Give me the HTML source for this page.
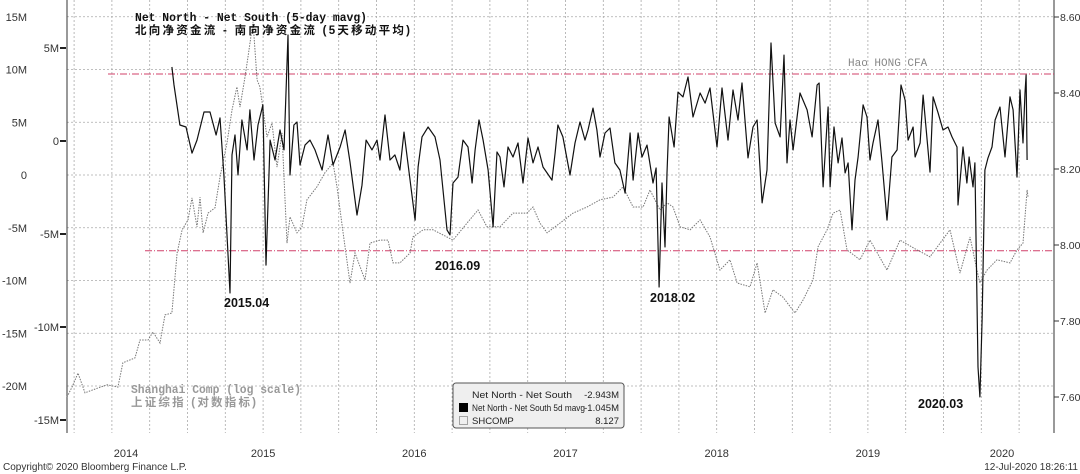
<!DOCTYPE html>
<html><head><meta charset="utf-8">
<style>
body{margin:0;background:#fff;}
#wrap{position:relative;width:1080px;height:474px;overflow:hidden;background:#fff;font-family:"Liberation Sans","Noto Sans CJK SC",sans-serif;}
svg text{font-family:"Liberation Sans","Noto Sans CJK SC",sans-serif;}
.mono{font-family:"Liberation Mono","Noto Sans CJK SC",monospace !important;}
</style></head>
<body>
<div id="wrap">
<svg id="chart" width="1080" height="474"></svg>
</div>
<script>
// ---- data ----
const netTimes=[2014.897,2014.911,2014.950,2014.990,2015.030,2015.063,2015.109,2015.149,2015.189,2015.215,2015.241,2015.281,2015.294,2015.314,2015.334,2015.360,2015.394,2015.413,2015.440,2015.466,2015.499,2015.519,2015.546,2015.579,2015.612,2015.638,2015.665,2015.678,2015.704,2015.724,2015.744,2015.777,2015.810,2015.843,2015.890,2015.929,2015.962,2016.009,2016.042,2016.075,2016.121,2016.154,2016.181,2016.220,2016.253,2016.273,2016.306,2016.339,2016.372,2016.405,2016.432,2016.505,2016.525,2016.551,2016.591,2016.637,2016.670,2016.716,2016.736,2016.756,2016.789,2016.822,2016.855,2016.882,2016.902,2016.928,2016.955,2016.988,2017.021,2017.047,2017.067,2017.093,2017.120,2017.153,2017.186,2017.219,2017.252,2017.285,2017.318,2017.351,2017.411,2017.431,2017.450,2017.483,2017.530,2017.563,2017.596,2017.629,2017.649,2017.682,2017.708,2017.728,2017.761,2017.794,2017.827,2017.860,2017.894,2017.927,2017.947,2017.980,2018.006,2018.039,2018.079,2018.099,2018.119,2018.138,2018.158,2018.171,2018.185,2018.218,2018.244,2018.277,2018.310,2018.343,2018.390,2018.423,2018.456,2018.502,2018.535,2018.575,2018.608,2018.641,2018.667,2018.707,2018.740,2018.767,2018.800,2018.833,2018.859,2018.886,2018.919,2018.945,2018.965,2018.985,2019.005,2019.051,2019.098,2019.131,2019.164,2019.177,2019.204,2019.237,2019.250,2019.276,2019.303,2019.329,2019.349,2019.369,2019.395,2019.415,2019.435,2019.468,2019.494,2019.514,2019.534,2019.567,2019.593,2019.626,2019.659,2019.693,2019.719,2019.746,2019.766,2019.799,2019.812,2019.845,2019.865,2019.911,2019.931,2019.964,2019.997,2020.030,2020.056,2020.089,2020.096,2020.129,2020.155,2020.169,2020.195,2020.208,2020.215,2020.228,2020.241,2020.255,2020.274,2020.294,2020.321,2020.341,2020.374,2020.407,2020.440,2020.460,2020.486,2020.506,2020.526,2020.539,2020.546,2020.553];
const netValues=[3.98,3.01,0.86,0.75,-0.65,0.05,1.56,1.56,0.32,1.24,-1.83,-8.17,-0.75,0.32,-1.83,1.13,-0.48,1.67,-1.02,0.86,1.94,-6.67,0.05,-1.02,0.59,-0.48,5.70,-1.83,0.86,1.02,-1.29,-0.22,0.05,-0.48,-1.56,0.32,-1.29,-0.32,0.59,-1.13,-3.98,-2.37,0.05,-0.48,0.05,-1.02,1.40,-1.02,-0.75,-1.56,0.48,-4.25,-1.40,0.22,0.75,0.22,-1.02,-4.78,-5.05,-2.26,-1.94,0.05,-0.32,-2.26,-0.48,1.13,0.05,-1.56,-4.62,-0.59,-0.86,-2.47,-0.32,-0.86,-0.11,-2.26,0.16,-1.18,-0.32,-1.40,-2.10,-0.65,0.86,0.22,-1.83,-0.11,1.02,0.05,0.59,1.77,0.59,-0.86,0.43,0.70,-1.18,-1.56,-2.80,0.43,-2.10,0.43,-0.86,-0.22,-2.26,-1.45,-7.85,-2.26,-5.70,-1.72,1.29,-0.32,2.63,2.37,3.44,1.29,2.58,2.04,2.85,-0.32,2.85,0.05,2.74,1.13,3.12,-0.91,0.75,1.13,-3.33,-1.56,5.27,0.97,0.22,4.62,-1.18,1.13,-0.48,2.58,1.67,0.22,3.01,3.12,-2.47,1.83,-2.47,0.75,-1.18,0.16,-1.72,-1.18,-4.78,-2.10,-0.86,1.94,1.29,-1.02,-0.11,1.13,-1.13,-4.25,-0.86,-0.48,3.01,2.20,0.05,0.75,-0.86,-0.11,2.47,-1.67,2.37,1.51,0.59,0.75,0.22,-0.32,-3.44,-0.32,-2.26,-0.86,-2.47,-1.18,-5.16,-12.15,-13.76,-9.62,-1.56,-0.91,-0.32,1.13,1.83,-0.86,2.37,1.67,-1.94,2.74,-0.11,2.58,3.55,-1.02];
const shTimes=[2014.203,2014.236,2014.276,2014.322,2014.375,2014.468,2014.540,2014.573,2014.653,2014.686,2014.739,2014.772,2014.818,2014.851,2014.897,2014.931,2014.964,2015.003,2015.030,2015.063,2015.083,2015.103,2015.136,2015.182,2015.215,2015.261,2015.294,2015.327,2015.347,2015.380,2015.400,2015.433,2015.460,2015.479,2015.526,2015.559,2015.592,2015.625,2015.658,2015.678,2015.724,2015.757,2015.790,2015.856,2015.909,2015.962,2015.989,2016.029,2016.075,2016.108,2016.174,2016.207,2016.273,2016.326,2016.359,2016.405,2016.472,2016.491,2016.558,2016.624,2016.716,2016.756,2016.849,2016.921,2016.981,2017.067,2017.153,2017.245,2017.285,2017.331,2017.378,2017.464,2017.550,2017.642,2017.728,2017.814,2017.880,2017.947,2018.013,2018.059,2018.125,2018.171,2018.211,2018.257,2018.324,2018.390,2018.456,2018.522,2018.588,2018.635,2018.720,2018.767,2018.820,2018.872,2018.938,2019.018,2019.071,2019.137,2019.170,2019.230,2019.270,2019.316,2019.362,2019.448,2019.514,2019.626,2019.712,2019.825,2019.911,2020.043,2020.109,2020.175,2020.221,2020.241,2020.288,2020.354,2020.440,2020.486,2020.526,2020.553,2020.559];
const shValues=[7.600,7.626,7.663,7.611,7.619,7.632,7.626,7.690,7.703,7.750,7.750,7.771,7.742,7.816,7.821,7.979,8.040,8.066,8.124,8.048,8.126,8.032,8.084,8.098,8.179,8.269,8.355,8.416,8.363,8.442,8.495,8.587,8.434,8.416,8.284,8.321,8.205,8.295,8.005,8.074,8.032,8.048,8.119,8.153,8.190,8.216,8.153,8.032,7.900,7.979,7.908,8.005,8.013,8.013,7.953,7.953,7.979,8.021,8.040,8.040,8.021,8.013,8.058,8.092,8.048,8.048,8.084,8.084,8.100,8.058,8.032,8.058,8.084,8.100,8.119,8.126,8.153,8.100,8.100,8.145,8.092,8.111,8.100,8.048,8.040,8.066,8.021,7.934,7.961,7.900,7.890,7.953,7.821,7.882,7.863,7.821,7.855,7.908,7.995,8.040,8.084,8.092,7.987,7.961,8.013,7.934,8.013,7.987,7.969,8.040,7.926,8.021,7.934,7.900,7.934,7.961,7.953,7.987,8.005,8.145,8.127];
const outerTicks=[15,10,5,0,-5,-10,-15,-20];
const outerLabels=["15M","10M","5M","0","-5M","-10M","-15M","-20M"];
const innerTicks=[5,0,-5,-10,-15];
const innerLabels=["5M","0","-5M","-10M","-15M"];
const rightTicks=[8.6,8.4,8.2,8.0,7.8,7.6];
const rightLabels=["8.60","8.40","8.20","8.00","7.80","7.60"];
const years=[2014,2015,2016,2017,2018,2019,2020];
const bandHigh=3.6, bandLow=-5.9; // inner-axis M levels of red dash-dot lines

// ---- scales ----
const L=67,R=1054,B=433;
const xT=t=>187.5+(t-2015)*151.2;
const yOuter=v=>175-v*10.55;
const yNet=v=>141-v*18.6;
const ySh=v=>93+(8.4-v)*380;

const svg=document.getElementById('chart');
const NS='http://www.w3.org/2000/svg';
function mk(tag,attrs,parent){const e=document.createElementNS(NS,tag);for(const k in attrs)e.setAttribute(k,attrs[k]);(parent||svg).appendChild(e);return e;}
function txt(s,x,y,attrs){const e=mk('text',Object.assign({x:x,y:y,'font-size':11,fill:'#333'},attrs||{}));e.textContent=s;return e;}

// grid
const grid=mk('g',{});


for(let q=2014.25;xT(q)<R;q+=0.25){mk('line',{x1:xT(q),x2:xT(q),y1:0,y2:B,stroke:'#aaa','stroke-width':0.8,'stroke-dasharray':'2,2'},grid);}
outerTicks.forEach(v=>{mk('line',{x1:L,x2:R,y1:yOuter(v),y2:yOuter(v),stroke:'#aaa','stroke-width':0.8,'stroke-dasharray':'2,2'},grid);});

// axes
const ax=mk('g',{});


mk('line',{x1:L,x2:L,y1:0,y2:B,stroke:'#333','stroke-width':1},ax);
mk('line',{x1:R,x2:R,y1:0,y2:B,stroke:'#333','stroke-width':1},ax);
outerTicks.forEach((v,i)=>{const t=txt(outerLabels[i],27,yOuter(v)+4,{'text-anchor':'end'});});
innerTicks.forEach((v,i)=>{mk('line',{x1:60,x2:66,y1:yNet(v),y2:yNet(v),stroke:'#222','stroke-width':2},ax);const t=txt(innerLabels[i],59,yNet(v)+4,{'text-anchor':'end'});});
rightTicks.forEach((v,i)=>{mk('line',{x1:R,x2:R+5,y1:ySh(v),y2:ySh(v),stroke:'#333','stroke-width':1},ax);const t=txt(rightLabels[i],R+6,ySh(v)+4,{'font-size':10.5});});
years.forEach(y=>{let c=xT(y+0.5);if(y===2014)c=126;if(y===2020)c=1002;const t=txt(String(y),c,457,{'text-anchor':'middle'});});

// red band lines
const b1=mk('line',{x1:108,x2:R,y1:yNet(bandHigh),y2:yNet(bandHigh),stroke:'#d0406a','stroke-width':1,'stroke-dasharray':'7,2,1,2'});

const b2=mk('line',{x1:145,x2:R,y1:yNet(bandLow),y2:yNet(bandLow),stroke:'#d0406a','stroke-width':1,'stroke-dasharray':'7,2,1,2'});


// SHCOMP dotted
const shPts=shTimes.map((t,i)=>xT(t).toFixed(1)+','+ySh(shValues[i]).toFixed(1)).join(' ');
const sh=mk('polyline',{points:shPts,fill:'none',stroke:'#777','stroke-width':1,'stroke-dasharray':'1.5,1.2'});


// net line
const netPts=netTimes.map((t,i)=>xT(t).toFixed(1)+','+yNet(netValues[i]).toFixed(1)).join(' ');
const nl=mk('polyline',{points:netPts,fill:'none',stroke:'#111','stroke-width':1.2,'stroke-linejoin':'round'});


// titles & annotations
let e;
e=txt('Net North - Net South (5-day mavg)',135,21,{'font-size':11.5,'font-weight':'bold',fill:'#111',class:'mono',textLength:232,lengthAdjust:'spacingAndGlyphs'});
e=txt('北向净资金流 - 南向净资金流 (5天移动平均)',135,34,{'font-size':11.5,'font-weight':'bold',fill:'#111',textLength:275,lengthAdjust:'spacing'});
e=txt('Hao HONG CFA',848,66,{'font-size':11,fill:'#888',class:'mono'});
e=txt('Shanghai Comp (log scale)',131,393,{'font-size':11.5,'font-weight':'bold',fill:'#999',class:'mono',textLength:170,lengthAdjust:'spacingAndGlyphs'});
e=txt('上证综指 (对数指标)',131,406,{'font-size':11.5,'font-weight':'bold',fill:'#999',textLength:125,lengthAdjust:'spacing'});
[['2015.04',224,307],['2016.09',435,270],['2018.02',650,302],['2020.03',918,408]].forEach(a=>{const t=txt(a[0],a[1],a[2],{'font-size':12.5,'font-weight':'bold',fill:'#111'});});

// legend
const lg=mk('g',{});

mk('rect',{x:453,y:383,width:171,height:45,rx:3,fill:'#efefef',stroke:'#555','stroke-width':1},lg);
const l1=txt('Net North - Net South',472,398,{'font-size':9.5,fill:'#222',textLength:100,lengthAdjust:'spacingAndGlyphs'});lg.appendChild(l1);
const l1v=txt('-2.943M',619,398,{'font-size':9.5,fill:'#222','text-anchor':'end'});lg.appendChild(l1v);
mk('rect',{x:459,y:403,width:9,height:9,fill:'#000'},lg);
const l2=txt('Net North - Net South 5d mavg',472,411,{'font-size':9.5,fill:'#222',textLength:113,lengthAdjust:'spacingAndGlyphs'});lg.appendChild(l2);
const l2v=txt('-1.045M',619,411,{'font-size':9.5,fill:'#222','text-anchor':'end'});lg.appendChild(l2v);
mk('rect',{x:459.5,y:416.5,width:8,height:8,fill:'none',stroke:'#555','stroke-dasharray':'1,1'},lg);
const l3=txt('SHCOMP',472,424,{'font-size':9.5,fill:'#222'});lg.appendChild(l3);
const l3v=txt('8.127',619,424,{'font-size':9.5,fill:'#222','text-anchor':'end'});lg.appendChild(l3v);

e=txt('Copyright© 2020 Bloomberg Finance L.P.',3,470,{'font-size':10,fill:'#333'});
e=txt('12-Jul-2020 18:26:11',1078,470,{'font-size':10,fill:'#333','text-anchor':'end'});
</script>
</body></html>
